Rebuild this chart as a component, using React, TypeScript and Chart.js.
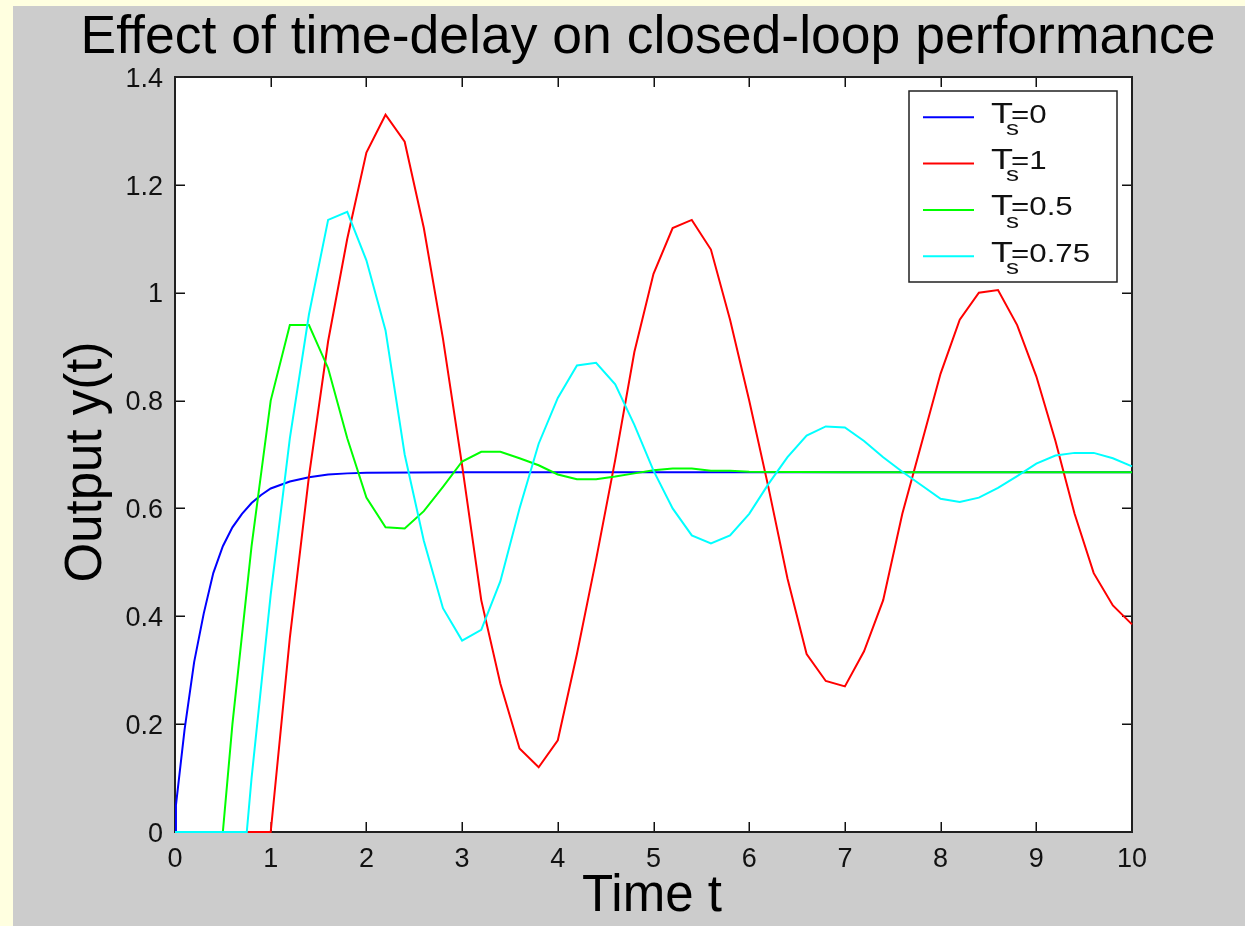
import React, { useEffect, useRef } from "react";
import { Chart, registerables } from "chart.js";

Chart.register(...registerables);

// ---------------- data ----------------
const titleText = "Effect of time-delay on closed-loop performance";
const xAxisTitle = "Time t";
const yAxisTitle = "Output y(t)";

const xTickValues = [0, 1, 2, 3, 4, 5, 6, 7, 8, 9, 10];
const xTickLabels = ["0", "1", "2", "3", "4", "5", "6", "7", "8", "9", "10"];
const yTickValues = [0, 0.2, 0.4, 0.6, 0.8, 1.0, 1.2, 1.4];
const yTickLabels = ["0", "0.2", "0.4", "0.6", "0.8", "1", "1.2", "1.4"];

const legendSymbol = "T";
const legendSubscript = "s";
const seriesDelays = ["0", "1", "0.5", "0.75"];
const seriesColors = ["#0000ff", "#ff0000", "#00ff00", "#00ffff"];

// Ts = 0
const blueTime = [0, 0.01, 0.1, 0.2, 0.3, 0.4, 0.5, 0.6, 0.7, 0.8, 0.9, 1.0, 1.2, 1.4, 1.6, 1.8, 2.0, 3, 4, 5, 6, 7, 8, 9, 10];
const blueValues = [0, 0.05, 0.19, 0.315, 0.405, 0.48, 0.53, 0.565, 0.59, 0.61, 0.625, 0.637, 0.65, 0.658, 0.663, 0.665, 0.666, 0.667, 0.667, 0.667, 0.667, 0.667, 0.667, 0.667, 0.667];

// Ts = 1
const redTime = [0, 1.0, 1.2, 1.4, 1.6, 1.8, 2.0, 2.2, 2.4, 2.6, 2.8, 3.0, 3.2, 3.4, 3.6, 3.8, 4.0, 4.2, 4.4, 4.6, 4.8, 5.0, 5.2, 5.4, 5.6, 5.8, 6.0, 6.2, 6.4, 6.6, 6.8, 7.0, 7.2, 7.4, 7.6, 7.8, 8.0, 8.2, 8.4, 8.6, 8.8, 9.0, 9.2, 9.4, 9.6, 9.8, 10.0];
const redValues = [0, 0, 0.36, 0.66, 0.91, 1.1, 1.26, 1.33, 1.28, 1.12, 0.915, 0.68, 0.43, 0.275, 0.155, 0.12, 0.17, 0.33, 0.505, 0.69, 0.89, 1.035, 1.12, 1.135, 1.08, 0.95, 0.8, 0.64, 0.47, 0.33, 0.28, 0.27, 0.335, 0.43, 0.59, 0.72, 0.85, 0.95, 1.0, 1.005, 0.94, 0.845, 0.725, 0.59, 0.48, 0.42, 0.385];

// Ts = 0.5
const greenTime = [0, 0.5, 0.6, 0.8, 1.0, 1.2, 1.4, 1.6, 1.8, 2.0, 2.2, 2.4, 2.6, 2.8, 3.0, 3.2, 3.4, 3.6, 3.8, 4.0, 4.2, 4.4, 4.6, 4.8, 5.0, 5.2, 5.4, 5.6, 5.8, 6.0, 7, 8, 9, 10];
const greenValues = [0, 0, 0.2, 0.53, 0.8, 0.94, 0.94, 0.86, 0.73, 0.62, 0.565, 0.563, 0.595, 0.64, 0.687, 0.705, 0.705, 0.693, 0.68, 0.663, 0.654, 0.654, 0.659, 0.665, 0.671, 0.674, 0.674, 0.67, 0.67, 0.668, 0.667, 0.667, 0.667, 0.667];

// Ts = 0.75
const cyanTime = [0, 0.75, 0.8, 1.0, 1.2, 1.4, 1.6, 1.8, 2.0, 2.2, 2.4, 2.6, 2.8, 3.0, 3.2, 3.4, 3.6, 3.8, 4.0, 4.2, 4.4, 4.6, 4.8, 5.0, 5.2, 5.4, 5.6, 5.8, 6.0, 6.2, 6.4, 6.6, 6.8, 7.0, 7.2, 7.4, 7.6, 7.8, 8.0, 8.2, 8.4, 8.6, 8.8, 9.0, 9.2, 9.4, 9.6, 9.8, 10.0];
const cyanValues = [0, 0, 0.1, 0.44, 0.73, 0.96, 1.135, 1.15, 1.06, 0.93, 0.7, 0.54, 0.415, 0.355, 0.375, 0.465, 0.6, 0.72, 0.805, 0.865, 0.87, 0.83, 0.755, 0.67, 0.6, 0.55, 0.535, 0.55, 0.59, 0.645, 0.695, 0.735, 0.752, 0.75, 0.725, 0.695, 0.668, 0.643, 0.618, 0.612, 0.62, 0.638, 0.66, 0.683, 0.698, 0.703, 0.703, 0.693, 0.678];

const seriesTimes = [blueTime, redTime, greenTime, cyanTime];
const seriesValues = [blueValues, redValues, greenValues, cyanValues];

// ---------------- styling ----------------
const FONT = '"Liberation Sans", Arial, Helvetica, sans-serif';
const W = 1245;
const H = 926;

function stretchedText(ctx: CanvasRenderingContext2D, text: string, x: number, y: number, sx: number) {
  ctx.save();
  ctx.translate(x, y);
  ctx.scale(sx, 1);
  ctx.fillText(text, 0, 0);
  ctx.restore();
}

const matlabPlugin = {
  id: "matlabLook",
  beforeDraw(chart: any) {
    const { ctx, chartArea } = chart;
    ctx.save();
    ctx.fillStyle = "#ffffe0";
    ctx.fillRect(0, 0, W, H);
    ctx.fillStyle = "#cccccc";
    ctx.fillRect(13, 6, W - 13, H - 6);
    ctx.fillStyle = "#ffffff";
    ctx.fillRect(chartArea.left, chartArea.top, chartArea.right - chartArea.left, chartArea.bottom - chartArea.top);
    ctx.restore();
  },
  beforeDatasetsDraw(chart: any) {
    const { ctx, chartArea } = chart;
    const xs = chart.scales.x;
    const ys = chart.scales.y;
    const { left, right, top, bottom } = chartArea;
    ctx.save();
    ctx.strokeStyle = "#111111";
    ctx.lineWidth = 1.5;
    const tl = 10;
    ctx.beginPath();
    xTickValues.forEach((v) => {
      const px = Math.round(xs.getPixelForValue(v)) + 0.25;
      ctx.moveTo(px, bottom);
      ctx.lineTo(px, bottom - tl);
      ctx.moveTo(px, top);
      ctx.lineTo(px, top + tl);
    });
    yTickValues.forEach((v) => {
      const py = Math.round(ys.getPixelForValue(v)) + 0.25;
      ctx.moveTo(left, py);
      ctx.lineTo(left + tl, py);
      ctx.moveTo(right, py);
      ctx.lineTo(right - tl, py);
    });
    ctx.stroke();
    ctx.lineWidth = 2;
    ctx.strokeStyle = "#202020";
    ctx.strokeRect(left, top, right - left, bottom - top);
    ctx.restore();
  },
  afterDraw(chart: any) {
    const { ctx } = chart;
    const xs = chart.scales.x;
    const ys = chart.scales.y;
    ctx.save();
    ctx.fillStyle = "#111111";
    ctx.textBaseline = "alphabetic";

    // tick labels
    ctx.font = `27px ${FONT}`;
    ctx.textAlign = "center";
    xTickValues.forEach((v, i) => {
      ctx.fillText(xTickLabels[i], xs.getPixelForValue(v), 867);
    });
    ctx.textAlign = "right";
    yTickValues.forEach((v, i) => {
      ctx.fillText(yTickLabels[i], 163, ys.getPixelForValue(v) + 9.7);
    });

    // title
    ctx.fillStyle = "#000000";
    ctx.textAlign = "center";
    ctx.font = `53.5px ${FONT}`;
    ctx.fillText(titleText, 648, 53);

    // x title
    ctx.font = `51px ${FONT}`;
    ctx.fillText(xAxisTitle, 652, 911);

    // y title
    ctx.save();
    ctx.translate(101, 462);
    ctx.rotate(-Math.PI / 2);
    ctx.font = `51px ${FONT}`;
    ctx.fillText(yAxisTitle, 0, 0);
    ctx.restore();

    // legend
    const bx = 909, by = 91, bw = 208, bh = 191;
    ctx.fillStyle = "#ffffff";
    ctx.fillRect(bx, by, bw, bh);
    ctx.strokeStyle = "#202020";
    ctx.lineWidth = 1.5;
    ctx.strokeRect(bx, by, bw, bh);
    seriesDelays.forEach((d, i) => {
      const ly = 117.3 + i * 46.3;
      ctx.strokeStyle = seriesColors[i];
      ctx.lineWidth = 2;
      ctx.beginPath();
      ctx.moveTo(923, ly);
      ctx.lineTo(974, ly);
      ctx.stroke();
      ctx.fillStyle = "#111111";
      ctx.textAlign = "left";
      ctx.font = `30px ${FONT}`;
      stretchedText(ctx, legendSymbol, 991, ly + 5.4, 1.2);
      ctx.font = `20px ${FONT}`;
      stretchedText(ctx, legendSubscript, 1006, ly + 17.7, 1.3);
      ctx.font = `25px ${FONT}`;
      stretchedText(ctx, "=" + d, 1011, ly + 5.4, 1.25);
    });
    ctx.restore();
  },
};

export default function App() {
  const canvasRef = useRef<HTMLCanvasElement | null>(null);

  useEffect(() => {
    const canvas = canvasRef.current;
    if (!canvas) return;
    const datasets = seriesValues.map((vals, si) => ({
      label: legendSymbol + legendSubscript + "=" + seriesDelays[si],
      data: seriesTimes[si].map((t, i) => ({ x: t, y: vals[i] })),
      borderColor: seriesColors[si],
      backgroundColor: seriesColors[si],
      borderWidth: 2,
      pointRadius: 0,
      pointHoverRadius: 0,
      tension: 0,
      fill: false,
      clip: false as any,
      order: 4 - si,
    }));
    const chart = new Chart(canvas, {
      type: "line",
      data: { datasets },
      options: {
        animation: false,
        responsive: false,
        maintainAspectRatio: false,
        devicePixelRatio: 1,
        layout: { padding: { left: 175, top: 77, right: 113, bottom: 94 } },
        plugins: {
          legend: { display: false },
          title: { display: false },
          tooltip: { enabled: false },
        },
        events: [],
        scales: {
          x: { type: "linear", min: 0, max: 10, display: false },
          y: { type: "linear", min: 0, max: 1.4, display: false },
        },
      },
      plugins: [matlabPlugin],
    });
    return () => chart.destroy();
  }, []);

  return (
    <div style={{ position: "absolute", left: 0, top: 0, width: W, height: H }}>
      <canvas ref={canvasRef} width={W} height={H} style={{ display: "block", width: W, height: H }} />
    </div>
  );
}
